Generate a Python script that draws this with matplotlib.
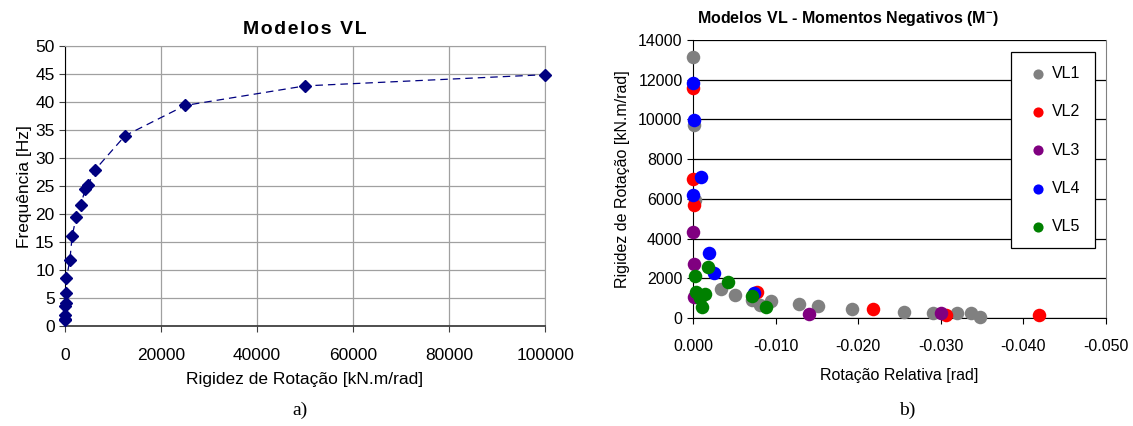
import matplotlib
matplotlib.use("Agg")
from matplotlib import pyplot as plt

plt.rcParams['font.family'] = ['Liberation Sans', 'DejaVu Sans']

# a) frequency vs rotational stiffness
rigidez = [0, 10, 20, 50, 100, 200, 300, 1000, 1500, 2300, 3300, 4200, 4800, 6250, 12500, 25000, 50000, 100000]
frequencia = [1.0, 1.3, 2.0, 3.5, 4.1, 5.9, 8.5, 11.8, 16.1, 19.4, 21.6, 24.5, 25.2, 27.9, 34.0, 39.4, 42.9, 44.9]

# b) stiffness vs relative rotation (negative moments)
vl1_rot = [0.0, -0.0001, -0.0003, -0.0034, -0.0051, -0.0072, -0.0081, -0.0095, -0.0128, -0.0151,
           -0.0192, -0.0255, -0.0291, -0.0320, -0.0337, -0.0348]
vl1_k = [13150, 9700, 5950, 1460, 1160, 900, 650, 850, 700, 600, 450, 300, 250, 250, 250, 50]
vl2_rot = [0.0, 0.0, -0.0001, -0.0078, -0.0218, -0.0306, -0.0419]
vl2_k = [11600, 7000, 5700, 1300, 450, 150, 150]
vl3_rot = [0.0, -0.0001, -0.0001, -0.0141, -0.0300]
vl3_k = [4330, 2700, 1050, 200, 250]
vl4_rot = [0.0, -0.0001, -0.0010, 0.0, -0.0019, -0.0026, -0.0074]
vl4_k = [11850, 9950, 7100, 6200, 3270, 2270, 1260]
vl5_rot = [-0.0002, -0.0018, -0.0042, -0.0004, -0.0014, -0.0008, -0.0011, -0.0071, -0.0088]
vl5_k = [2110, 2570, 1810, 1310, 1200, 1000, 550, 1100, 550]

series = [
    ('VL1', vl1_rot, vl1_k, '#808080'),
    ('VL2', vl2_rot, vl2_k, '#ff0000'),
    ('VL3', vl3_rot, vl3_k, '#800080'),
    ('VL4', vl4_rot, vl4_k, '#0000ff'),
    ('VL5', vl5_rot, vl5_k, '#008000'),
]

fig = plt.figure(figsize=(11.33, 4.26), dpi=100)

# ---- left chart ----
ax1 = fig.add_axes([0.0574, 0.2347, 0.4237, 0.657])
ax1.plot(rigidez, frequencia, color='#000080', linestyle=(0, (6, 4)), linewidth=0.9,
         marker='D', markersize=6, markerfacecolor='#000080', markeredgecolor='#000080',
         zorder=3, clip_on=False)
ax1.set_xlim(0, 100000)
ax1.set_ylim(0, 50)
ax1.set_xticks(range(0, 100001, 20000))
ax1.set_yticks(range(0, 51, 5))
ax1.grid(True, color='#a0a0a0', linewidth=0.9)
ax1.set_axisbelow(True)
ax1.spines['left'].set_color('black')
ax1.spines['bottom'].set_color('#404040')
ax1.spines['bottom'].set_linewidth(1.3)
ax1.spines['top'].set_color('#a0a0a0')
ax1.spines['right'].set_color('#a0a0a0')
ax1.tick_params(axis='both', labelsize=12.5, direction='out', length=4, color='#404040')
ax1.tick_params(axis='x', pad=12)
hs = '\u200a'
ax1.set_title(hs.join('Modelos VL'), fontsize=14, fontweight='bold', pad=9,
              family=['Liberation Sans', 'DejaVu Sans'])
ax1.set_xlabel('Rigidez de Rotação [kN.m/rad]', fontsize=12.5, labelpad=6)
ax1.set_ylabel('Frequência [Hz]', fontsize=12.5, labelpad=2)

# ---- right chart ----
ax2 = fig.add_axes([0.6116, 0.2535, 0.3645, 0.6526])
for name, rot, k, col in series:
    ax2.scatter(rot, k, s=95, color=col, label=name, zorder=3, linewidths=0, clip_on=False)
ax2.set_xlim(0, -0.05)
ax2.set_ylim(0, 14000)
ax2.set_xticks([0, -0.01, -0.02, -0.03, -0.04, -0.05])
ax2.set_xticklabels(['0.000', '-0.010', '-0.020', '-0.030', '-0.040', '-0.050'])
ax2.set_yticks(range(0, 14001, 2000))
ax2.yaxis.grid(True, color='black', linewidth=0.9)
ax2.set_axisbelow(True)
ax2.spines['top'].set_visible(False)
ax2.spines['right'].set_color('#808080')
ax2.spines['left'].set_color('black')
ax2.spines['bottom'].set_color('black')
ax2.tick_params(axis='both', labelsize=11.5, direction='out', length=4)
ax2.tick_params(axis='x', pad=11)
fig.text(848 / 1133, 1 - 18 / 426, 'Modelos VL - Momentos Negativos (M$\\mathregular{^{-}}$)',
         fontsize=11.5, fontweight='bold', ha='center', va='center')
ax2.set_xlabel('Rotação Relativa [rad]', fontsize=11.5, labelpad=10)
ax2.set_ylabel('Rigidez de Rotação [kN.m/rad]', fontsize=11.5, labelpad=6)
leg = ax2.legend(loc='upper right', bbox_to_anchor=(0.974, 0.957),
                 fontsize=11.5, labelspacing=1.45, borderpad=0.9, handletextpad=0.1,
                 handlelength=1.6, borderaxespad=0, markerscale=0.75, fancybox=False,
                 framealpha=1, edgecolor='black')
leg.get_frame().set_linewidth(0.9)

# captions
fig.text(300 / 1133, 1 - 410 / 426, 'a)', fontsize=14, family='Liberation Serif', ha='center', va='center')
fig.text(907 / 1133, 1 - 410 / 426, 'b)', fontsize=14, family='Liberation Serif', ha='center', va='center')

fig.savefig('out.png', dpi=100)
